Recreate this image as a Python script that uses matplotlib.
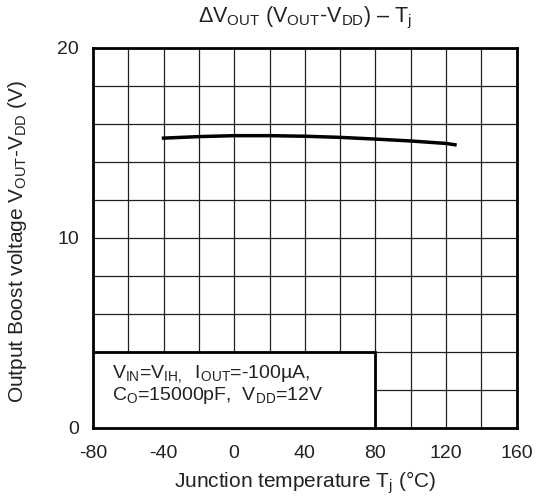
import numpy as np
import matplotlib
matplotlib.use("Agg")
import matplotlib.pyplot as plt
from matplotlib.patches import Rectangle

plt.rcParams["font.family"] = ["Liberation Sans", "DejaVu Sans"]
plt.rcParams["mathtext.fontset"] = "custom"
plt.rcParams["mathtext.rm"] = "Liberation Sans"
plt.rcParams["mathtext.it"] = "Liberation Sans"
plt.rcParams["axes.unicode_minus"] = False

# Output boost voltage vs junction temperature
temp_c = [-40, -20, 0, 20, 40, 60, 80, 100, 120, 125]
dv_out = [15.25, 15.33, 15.38, 15.38, 15.35, 15.29, 15.2, 15.1, 14.97, 14.9]

x_ticks = [-80, -40, 0, 40, 80, 120, 160]
y_ticks = [0, 10, 20]
x_grid = np.arange(-80, 161, 20)
y_grid = np.arange(0, 21, 2)

txt = "#222222"

fig = plt.figure(figsize=(5.4, 5.04), dpi=100)
ax = fig.add_axes([0.172, 0.151, 0.785, 0.754])

ax.set_xlim(-80, 160)
ax.set_ylim(0, 20)
ax.set_xticks(x_ticks)
ax.set_yticks(y_ticks)
ax.set_xticks(x_grid, minor=True)
ax.set_yticks(y_grid, minor=True)
ax.grid(which="both", color="#202020", linewidth=0.9)
ax.tick_params(which="both", length=0, labelsize=14, colors=txt)
ax.tick_params(axis="x", pad=12)
ax.tick_params(axis="y", pad=10)
for sp in ax.spines.values():
    sp.set_linewidth(2.0)
    sp.set_color("black")

ax.plot(temp_c, dv_out, color="black", linewidth=2.5, zorder=3)

# condition box in the lower-left corner
ax.add_patch(Rectangle((-80, 0), 160, 4, facecolor="white", edgecolor="black",
                       linewidth=2.0, zorder=4))
ax.text(-69, 2.85,
        r"V$_{\mathrm{IN}}$=V$_{\mathrm{IH,}}$  I$_{\mathrm{OUT}}$=-100µA,",
        fontsize=14, color=txt, va="center", zorder=5)
ax.text(-69, 1.7,
        r"C$_{\mathrm{O}}$=15000pF,  V$_{\mathrm{DD}}$=12V",
        fontsize=14, color=txt, va="center", zorder=5)

ax.text(0.5, 1.079,
        r"ΔV$_{\mathrm{OUT}}$ (V$_{\mathrm{OUT}}$-V$_{\mathrm{DD}}$) – T$_{\mathrm{j}}$",
        transform=ax.transAxes, fontsize=15.5, color=txt, ha="center", va="center")
ax.set_xlabel(r"Junction temperature T$_{\mathrm{j}}$ (°C)", fontsize=15, color=txt,
              va="center")
ax.set_ylabel(r"Output Boost voltage V$_{\mathrm{OUT}}$-V$_{\mathrm{DD}}$ (V)",
              fontsize=15, color=txt, va="center")
ax.xaxis.set_label_coords(0.5, -0.145)
ax.yaxis.set_label_coords(-0.177, 0.49)

fig.savefig("out.png", dpi=100)
